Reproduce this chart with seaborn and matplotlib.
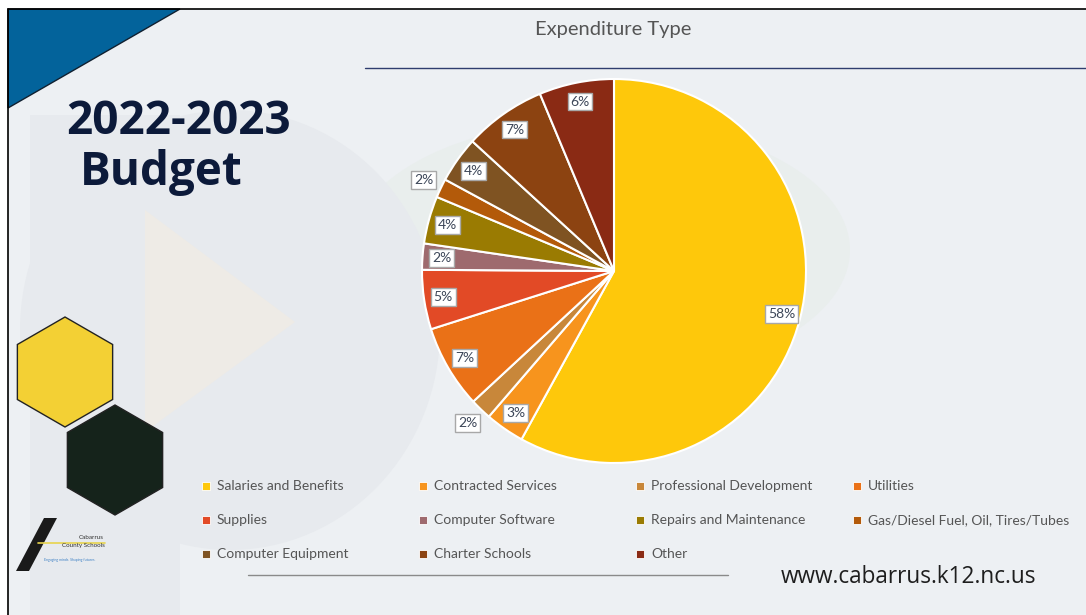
import numpy as np
import matplotlib
matplotlib.use("Agg")
import matplotlib.pyplot as plt
import seaborn as sns
from matplotlib.patches import Polygon, RegularPolygon, Rectangle, Ellipse

# chart data
categories = [
    "Salaries and Benefits", "Contracted Services", "Professional Development",
    "Utilities", "Supplies", "Computer Software", "Repairs and Maintenance",
    "Gas/Diesel Fuel, Oil, Tires/Tubes", "Computer Equipment", "Charter Schools",
    "Other",
]
shares = [58.0, 3.3, 1.8, 7.0, 5.0, 2.2, 4.0, 1.6, 3.9, 6.9, 6.3]
slice_colors = [
    "#FEC80B", "#F7941D", "#C8873A", "#EA7117", "#E24A26", "#9E6A6E",
    "#9A7B02", "#B35A0A", "#7F5322", "#8C4311", "#8A2A14",
]
chart_title = "Expenditure Type"
heading_lines = ["2022-2023", "Budget"]
site_url = "www.cabarrus.k12.nc.us"

sns.set_theme(style="white")
plt.rcParams["font.family"] = ["Lato", "DejaVu Sans"]

W, H = 1086, 615
fig = plt.figure(figsize=(W / 100, H / 100), dpi=100)
fig.patch.set_facecolor("white")

# background / decoration axes in pixel coordinates
bg = fig.add_axes([0, 0, 1, 1])
bg.set_xlim(0, W)
bg.set_ylim(H, 0)
bg.axis("off")

bg.add_patch(Rectangle((8, 9), W, H, facecolor="#edf0f3", edgecolor="none", zorder=0))
# faint watermark shapes
bg.add_patch(Rectangle((30, 115), 150, 500, facecolor="#e7eaee", edgecolor="none", zorder=0.5))
bg.add_patch(Ellipse((230, 330), 420, 440, facecolor="#e7eaee", edgecolor="none", zorder=0.5))
bg.add_patch(Ellipse((600, 250), 500, 260, facecolor="#e9eeed", edgecolor="none", zorder=0.4))
bg.add_patch(Polygon([(145, 210), (295, 322), (145, 432)], facecolor="#eeebe6",
                     edgecolor="none", zorder=0.6))
bg.plot([8, 8], [9, H], color="black", lw=1.2, zorder=5)
bg.plot([8, W], [9, 9], color="black", lw=1.2, zorder=5)
bg.add_patch(Polygon([(8, 9), (180, 9), (8, 108)], facecolor="#03639b",
                     edgecolor="#102030", lw=1, zorder=4))

heading_font = ["Open Sans", "DejaVu Sans"]
bg.text(66, 121, heading_lines[0], fontsize=33, fontweight="bold", color="#0c1a3a",
        ha="left", va="center", family=heading_font, zorder=5)
bg.text(80, 172, heading_lines[1], fontsize=33, fontweight="bold", color="#0c1a3a",
        ha="left", va="center", family=heading_font, zorder=5)

# hexagons
bg.add_patch(RegularPolygon((65, 372), 6, radius=55, facecolor="#F3D034",
                            edgecolor="#222222", lw=1, zorder=3))
bg.add_patch(RegularPolygon((115, 460), 6, radius=55, facecolor="#15231b",
                            edgecolor="#222222", lw=1, zorder=3))

# small school logo
bg.add_patch(Polygon([(16, 571), (29, 571), (57, 518), (44, 518)], facecolor="#1a1a1a",
                     edgecolor="none", zorder=3))
bg.plot([38, 105], [543, 543], color="#e8d44d", lw=1.2, zorder=3)
bg.text(104, 540, "Cabarrus", fontsize=4.5, color="#333333", ha="right", va="bottom", zorder=4)
bg.text(105, 546, "County Schools", fontsize=4.5, color="#333333", ha="right", va="center", zorder=4)
bg.text(44, 560, "Engaging minds. Shaping futures.", fontsize=2.5, color="#3b7fc4",
        ha="left", va="center", zorder=4)

# title and rules
bg.text(613, 29, chart_title, fontsize=14.5, color="#555555", ha="center", va="center", zorder=5)
bg.plot([365, W], [68, 68], color="#2f3d6e", lw=1, zorder=5)
bg.plot([248, 728], [575, 575], color="#8a8a8a", lw=1, zorder=5)
bg.text(908, 577, site_url, fontsize=16.3, color="#1e1e1e", ha="center", va="center",
        family=heading_font, zorder=5)

# pie
cx, cy, R = 614, 271, 192
pie_ax = fig.add_axes([(cx - R) / W, (H - cy - R) / H, 2 * R / W, 2 * R / H])
palette = sns.color_palette(slice_colors)
wedges, _ = pie_ax.pie(shares, colors=palette, startangle=90, counterclock=False,
                       wedgeprops=dict(edgecolor="white", linewidth=1.5))
pie_ax.set_xlim(-1, 1)
pie_ax.set_ylim(-1, 1)
pie_ax.set_aspect("equal")
pie_ax.axis("off")

for w, v in zip(wedges, shares):
    mid = np.deg2rad((w.theta1 + w.theta2) / 2)
    r = 1.1 if v < 2 else 0.9
    pie_ax.text(r * np.cos(mid), r * np.sin(mid), f"{v:.0f}%", ha="center", va="center",
                fontsize=10, color="#3c4658", zorder=10,
                bbox=dict(boxstyle="square,pad=0.2", facecolor="white",
                          edgecolor="#a8a8a8", lw=1))

# legend: 4 columns, row-major
for i, (name, col) in enumerate(zip(categories, palette)):
    row, c = divmod(i, 4)
    x = 206 + c * 217
    y = 486 + row * 34
    bg.scatter([x], [y], marker="s", s=30, color=col, edgecolor="white", lw=0.6, zorder=6)
    bg.text(x + 11, y, name, fontsize=10, color="#555555", ha="left", va="center", zorder=6)

fig.savefig("out.png", dpi=100)
